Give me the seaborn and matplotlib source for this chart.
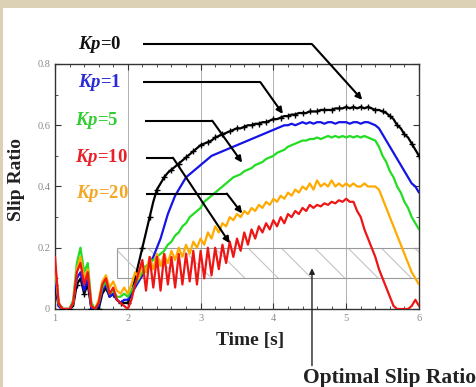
import numpy as np
import pandas as pd
import matplotlib
matplotlib.use("Agg")
import matplotlib.pyplot as plt
from matplotlib.patches import Rectangle
from matplotlib.ticker import MultipleLocator
import seaborn as sns

# ---------------- data (0.05 s sampling) ----------------
time = np.round(np.arange(1.0, 6.0001, 0.05), 2)

kp0 = [0.08, 0.01, 0.0, 0.0, 0.0, 0.01, 0.08, 0.10, 0.05, 0.08, 0.0, 0.0, 0.0, 0.05, 0.07, 0.04, 0.05, 0.03, 0.02, 0.02,
       0.02, 0.05, 0.10, 0.15, 0.20, 0.25, 0.30, 0.35, 0.39, 0.41, 0.43, 0.445, 0.455, 0.465, 0.475, 0.485, 0.495, 0.505, 0.515, 0.525,
       0.535, 0.54, 0.545, 0.55, 0.56, 0.565, 0.57, 0.575, 0.58, 0.585, 0.59, 0.59, 0.595, 0.60, 0.60, 0.605, 0.605, 0.61, 0.61, 0.615,
       0.62, 0.62, 0.625, 0.63, 0.63, 0.635, 0.635, 0.64, 0.64, 0.64, 0.645, 0.645, 0.645, 0.65, 0.65, 0.65, 0.65, 0.655, 0.655, 0.655,
       0.66, 0.655, 0.66, 0.655, 0.66, 0.655, 0.66, 0.655, 0.65, 0.65, 0.645, 0.64, 0.63, 0.62, 0.60, 0.59, 0.57, 0.56, 0.54, 0.52,
       0.50]

kp1 = [0.10, 0.01, 0.0, 0.0, 0.0, 0.02, 0.10, 0.12, 0.06, 0.10, 0.0, 0.0, 0.01, 0.06, 0.08, 0.04, 0.05, 0.03, 0.02, 0.03,
       0.03, 0.05, 0.07, 0.09, 0.11, 0.13, 0.15, 0.17, 0.20, 0.23, 0.27, 0.31, 0.34, 0.37, 0.39, 0.41, 0.43, 0.44, 0.45, 0.46,
       0.47, 0.48, 0.49, 0.50, 0.505, 0.51, 0.515, 0.52, 0.525, 0.53, 0.535, 0.54, 0.545, 0.55, 0.555, 0.56, 0.565, 0.57, 0.575, 0.58,
       0.585, 0.59, 0.595, 0.60, 0.60, 0.605, 0.60, 0.605, 0.61, 0.605, 0.61, 0.605, 0.61, 0.61, 0.605, 0.61, 0.61, 0.605, 0.61, 0.61,
       0.61, 0.605, 0.61, 0.61, 0.605, 0.61, 0.61, 0.605, 0.60, 0.59, 0.57, 0.55, 0.53, 0.51, 0.49, 0.47, 0.45, 0.43, 0.41, 0.40,
       0.38]

kp5 = [0.14, 0.02, 0.0, 0.0, 0.0, 0.03, 0.15, 0.20, 0.12, 0.15, 0.02, 0.0, 0.02, 0.07, 0.09, 0.05, 0.06, 0.04, 0.04, 0.05,
       0.04, 0.06, 0.08, 0.10, 0.12, 0.14, 0.15, 0.16, 0.17, 0.18, 0.19, 0.21, 0.22, 0.24, 0.25, 0.27, 0.28, 0.30, 0.31, 0.32,
       0.33, 0.35, 0.36, 0.37, 0.38, 0.39, 0.40, 0.41, 0.42, 0.43, 0.435, 0.44, 0.45, 0.455, 0.46, 0.47, 0.475, 0.48, 0.49, 0.495,
       0.50, 0.51, 0.515, 0.52, 0.53, 0.535, 0.54, 0.545, 0.55, 0.55, 0.555, 0.555, 0.56, 0.555, 0.56, 0.565, 0.56, 0.565, 0.56, 0.565,
       0.56, 0.565, 0.56, 0.565, 0.56, 0.565, 0.56, 0.555, 0.55, 0.53, 0.50, 0.48, 0.45, 0.43, 0.40, 0.38, 0.35, 0.33, 0.30, 0.28,
       0.26]

kp10 = [0.17, 0.02, 0.0, 0.0, 0.0, 0.02, 0.12, 0.15, 0.08, 0.12, 0.01, 0.0, 0.02, 0.08, 0.10, 0.05, 0.07, 0.03, 0.02, 0.01,
        0.0, 0.03, 0.08, 0.12, 0.16, 0.06, 0.17, 0.07, 0.17, 0.06, 0.18, 0.08, 0.17, 0.07, 0.18, 0.08, 0.18, 0.09, 0.19, 0.08,
        0.19, 0.10, 0.20, 0.11, 0.20, 0.13, 0.21, 0.15, 0.22, 0.17, 0.23, 0.19, 0.25, 0.21, 0.26, 0.23, 0.27, 0.25, 0.28, 0.26,
        0.29, 0.27, 0.30, 0.28, 0.31, 0.30, 0.32, 0.31, 0.33, 0.32, 0.34, 0.33, 0.34, 0.335, 0.345, 0.34, 0.35, 0.345, 0.355, 0.35,
        0.36, 0.35, 0.35, 0.32, 0.30, 0.26, 0.23, 0.20, 0.17, 0.13, 0.10, 0.07, 0.04, 0.01, 0.0, 0.0, 0.0, 0.0, 0.01, 0.03,
        0.01]

kp20 = [0.15, 0.02, 0.0, 0.0, 0.0, 0.02, 0.13, 0.17, 0.10, 0.13, 0.01, 0.0, 0.03, 0.09, 0.11, 0.07, 0.09, 0.06, 0.05, 0.07,
        0.05, 0.08, 0.12, 0.10, 0.15, 0.12, 0.17, 0.13, 0.18, 0.14, 0.18, 0.15, 0.19, 0.16, 0.20, 0.17, 0.21, 0.18, 0.22, 0.20,
        0.23, 0.21, 0.25, 0.23, 0.27, 0.25, 0.28, 0.27, 0.30, 0.29, 0.31, 0.30, 0.32, 0.31, 0.33, 0.32, 0.34, 0.33, 0.35, 0.34,
        0.36, 0.35, 0.37, 0.36, 0.38, 0.37, 0.39, 0.38, 0.40, 0.39, 0.41, 0.39, 0.42, 0.40, 0.41, 0.40, 0.42, 0.40, 0.41, 0.40,
        0.41, 0.40, 0.41, 0.40, 0.40, 0.41, 0.40, 0.40, 0.40, 0.39, 0.36, 0.33, 0.30, 0.27, 0.24, 0.21, 0.18, 0.15, 0.12, 0.10,
        0.08]

series_names = ["Kp=0", "Kp=1", "Kp=5", "Kp=10", "Kp=20"]
series_vals = [kp0, kp1, kp5, kp10, kp20]
line_colors = ["#000000", "#1414e6", "#22dd22", "#ee1515", "#ffaa00"]
label_colors = ["#111111", "#2a2ad8", "#33cc33", "#e8202a", "#f5a623"]
label_text = [r"$\mathbfit{Kp}$=0", r"$\mathbfit{Kp}$=1", r"$\mathbfit{Kp}$=5",
              r"$\mathbfit{Kp}$=10", r"$\mathbfit{Kp}$=20"]
draw_order = ["Kp=0", "Kp=1", "Kp=5", "Kp=20", "Kp=10"]

opt_low, opt_high, opt_start = 0.1, 0.2, 1.85
x_ticks = [1, 2, 3, 4, 5, 6]
y_ticks = [0, 0.2, 0.4, 0.6, 0.8]
y_ticklabels = ["0", "0.2", "0.4", "0.6", "0.8"]

# ---------------- style ----------------
sns.set_style("ticks")
plt.rcParams["font.family"] = ["Liberation Serif", "DejaVu Serif"]
plt.rcParams["mathtext.fontset"] = "custom"
plt.rcParams["mathtext.rm"] = "Liberation Serif"
plt.rcParams["mathtext.it"] = "Liberation Serif:italic"
plt.rcParams["mathtext.bf"] = "Liberation Serif:bold"
plt.rcParams["mathtext.bfit"] = "Liberation Serif:italic:bold"
plt.rcParams["hatch.color"] = "#c4c4c4"
plt.rcParams["hatch.linewidth"] = 0.8

df = pd.DataFrame({"time": np.tile(time, len(series_names)),
                   "slip": np.concatenate([np.asarray(v, float) for v in series_vals]),
                   "kp": np.repeat(series_names, len(time))})

fig = plt.figure(figsize=(4.77, 3.87), dpi=100)
fig.patch.set_facecolor("white")
# beige frame strips (top and left)
fig.patches.append(Rectangle((0, 1 - 8 / 387), 1, 8 / 387, transform=fig.transFigure,
                             facecolor="#dcd1b4", edgecolor="none", zorder=0))
fig.patches.append(Rectangle((0, 0), 3 / 477, 1, transform=fig.transFigure,
                             facecolor="#dcd1b4", edgecolor="none", zorder=0))

ax = fig.add_axes([55 / 477, 1 - 309 / 387, 364 / 477, 245 / 387])

# optimal slip ratio band (hatch + border)
ax.add_patch(Rectangle((opt_start, opt_low), 6 - opt_start, opt_high - opt_low,
                       facecolor="none", edgecolor="#c4c4c4", hatch="\\", lw=0, zorder=1))
ax.add_patch(Rectangle((opt_start, opt_low), 6 - opt_start, opt_high - opt_low,
                       facecolor="none", edgecolor="#9a9a9a", lw=0.8, zorder=1))

for name in draw_order:
    i = series_names.index(name)
    sub = df[df["kp"] == name]
    kw = {}
    if name == "Kp=0":
        kw = dict(marker="+", markersize=4, markevery=2, markeredgewidth=1.0,
                  markeredgecolor="black", markerfacecolor="black")
    sns.lineplot(data=sub, x="time", y="slip", color=line_colors[i], lw=1.6,
                 ax=ax, estimator=None, sort=False, legend=False, zorder=3, **kw)

ax.set_xlim(1, 6)
ax.set_ylim(0, 0.8)
ax.set_xticks(x_ticks)
ax.set_xticklabels([str(v) for v in x_ticks])
ax.set_yticks(y_ticks)
ax.set_yticklabels(y_ticklabels)
ax.xaxis.set_minor_locator(MultipleLocator(0.2))
ax.yaxis.set_minor_locator(MultipleLocator(0.1))
ax.tick_params(which="both", direction="in", top=True, right=True, colors="#333333",
               labelcolor="#8a8a8a", labelsize=7.5)
ax.tick_params(which="major", length=4, width=0.8)
ax.tick_params(which="minor", length=2, width=0.6)
ax.grid(axis="x", which="major", color="#b0b0b0", lw=0.7)
for s in ax.spines.values():
    s.set_color("#333333")
    s.set_linewidth(1.0)

ax.set_xlabel("Time [s]", fontsize=14, fontweight="bold", color="#222222", va="center")
ax.xaxis.set_label_coords(0.536, -0.127)
ax.set_ylabel("Slip Ratio", fontsize=14, fontweight="bold", color="#222222", va="center")
ax.yaxis.set_label_coords(-0.107, 0.527)

# labels with leader lines
label_pos = [(1.31, 0.865), (1.31, 0.741), (1.28, 0.615), (1.28, 0.494), (1.29, 0.377)]
leader_start = [(2.21, 0.865), (2.21, 0.741), (2.24, 0.615), (2.25, 0.494), (2.25, 0.377)]
leader_bend = [(4.53, 0.865), (3.82, 0.741), (3.16, 0.615), (2.62, 0.494), (3.36, 0.377)]
leader_tip = [(5.22, 0.683), (4.13, 0.637), (3.57, 0.478), (3.40, 0.215), (3.57, 0.312)]
for i in range(5):
    ax.text(label_pos[i][0], label_pos[i][1], label_text[i], color=label_colors[i],
            fontsize=13.5, fontweight="bold", ha="left", va="center", clip_on=False, zorder=6)
    ax.plot([leader_start[i][0], leader_bend[i][0]], [leader_start[i][1], leader_bend[i][1]],
            color="black", lw=1.5, clip_on=False, zorder=5, solid_capstyle="butt")
    ax.annotate("", xy=leader_tip[i], xytext=leader_bend[i],
                arrowprops=dict(arrowstyle="-|>", color="black", lw=1.5, mutation_scale=9,
                                shrinkA=0, shrinkB=0), annotation_clip=False, zorder=5)

# optimal slip ratio annotation
ax.annotate("", xy=(4.53, 0.133), xytext=(4.53, -0.185),
            arrowprops=dict(arrowstyle="-|>", color="#222222", lw=1.0, mutation_scale=8,
                            shrinkA=0, shrinkB=0), annotation_clip=False, zorder=5)
ax.text(4.41, -0.224, "Optimal Slip Ratio", fontsize=15.5, fontweight="bold", color="#222222",
        ha="left", va="center", clip_on=False)

fig.savefig("out.png", dpi=100)
